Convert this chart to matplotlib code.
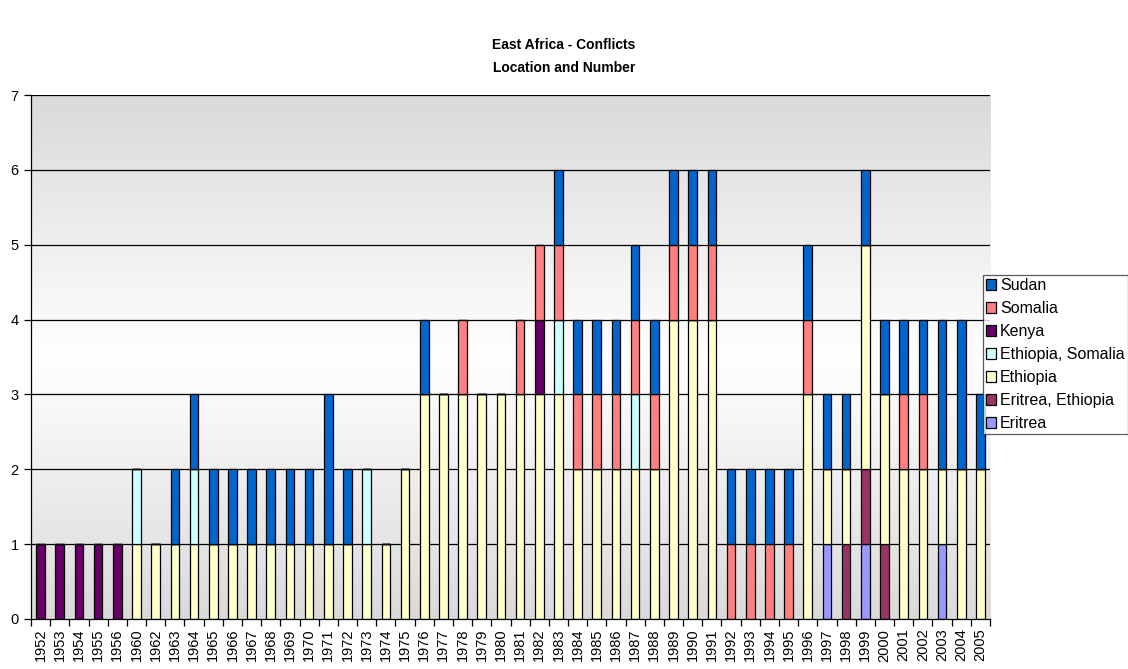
import numpy as np
import matplotlib
matplotlib.use("Agg")
import matplotlib.pyplot as plt
from matplotlib.patches import Patch

plt.rcParams['font.family'] = ['Liberation Sans', 'DejaVu Sans']

years = ["1952", "1953", "1954", "1955", "1956", "1960", "1962", "1963", "1964",
         "1965", "1966", "1967", "1968", "1969", "1970", "1971", "1972", "1973",
         "1974", "1975", "1976", "1977", "1978", "1979", "1980", "1981", "1982",
         "1983", "1984", "1985", "1986", "1987", "1988", "1989", "1990", "1991",
         "1992", "1993", "1994", "1995", "1996", "1997", "1998", "1999", "2000",
         "2001", "2002", "2003", "2004", "2005"]

eritrea = [0, 0, 0, 0, 0, 0, 0, 0, 0,
           0, 0, 0, 0, 0, 0, 0, 0, 0,
           0, 0, 0, 0, 0, 0, 0, 0, 0,
           0, 0, 0, 0, 0, 0, 0, 0, 0,
           0, 0, 0, 0, 0, 1, 0, 1, 0,
           0, 0, 1, 0, 0]
eritrea_ethiopia = [0, 0, 0, 0, 0, 0, 0, 0, 0,
                    0, 0, 0, 0, 0, 0, 0, 0, 0,
                    0, 0, 0, 0, 0, 0, 0, 0, 0,
                    0, 0, 0, 0, 0, 0, 0, 0, 0,
                    0, 0, 0, 0, 0, 0, 1, 1, 1,
                    0, 0, 0, 0, 0]
ethiopia = [0, 0, 0, 0, 0, 1, 1, 1, 1,
            1, 1, 1, 1, 1, 1, 1, 1, 1,
            1, 2, 3, 3, 3, 3, 3, 3, 3,
            3, 2, 2, 2, 2, 2, 4, 4, 4,
            0, 0, 0, 0, 3, 1, 1, 3, 2,
            2, 2, 1, 2, 2]
ethiopia_somalia = [0, 0, 0, 0, 0, 1, 0, 0, 1,
                    0, 0, 0, 0, 0, 0, 0, 0, 1,
                    0, 0, 0, 0, 0, 0, 0, 0, 0,
                    1, 0, 0, 0, 1, 0, 0, 0, 0,
                    0, 0, 0, 0, 0, 0, 0, 0, 0,
                    0, 0, 0, 0, 0]
kenya = [1, 1, 1, 1, 1, 0, 0, 0, 0,
         0, 0, 0, 0, 0, 0, 0, 0, 0,
         0, 0, 0, 0, 0, 0, 0, 0, 1,
         0, 0, 0, 0, 0, 0, 0, 0, 0,
         0, 0, 0, 0, 0, 0, 0, 0, 0,
         0, 0, 0, 0, 0]
somalia = [0, 0, 0, 0, 0, 0, 0, 0, 0,
           0, 0, 0, 0, 0, 0, 0, 0, 0,
           0, 0, 0, 0, 1, 0, 0, 1, 1,
           1, 1, 1, 1, 1, 1, 1, 1, 1,
           1, 1, 1, 1, 1, 0, 0, 0, 0,
           1, 1, 0, 0, 0]
sudan = [0, 0, 0, 0, 0, 0, 0, 1, 1,
         1, 1, 1, 1, 1, 1, 2, 1, 0,
         0, 0, 1, 0, 0, 0, 0, 0, 0,
         1, 1, 1, 1, 1, 1, 1, 1, 1,
         1, 1, 1, 1, 1, 1, 1, 1, 1,
         1, 1, 2, 2, 1]

series = [
    ("Eritrea", eritrea, "#9999FF"),
    ("Eritrea, Ethiopia", eritrea_ethiopia, "#993366"),
    ("Ethiopia", ethiopia, "#FFFFCC"),
    ("Ethiopia, Somalia", ethiopia_somalia, "#CCFFFF"),
    ("Kenya", kenya, "#660066"),
    ("Somalia", somalia, "#FF8080"),
    ("Sudan", sudan, "#0066CC"),
]

fig = plt.figure(figsize=(11.28, 6.69), dpi=100)
ax = fig.add_axes([31 / 1128, 50 / 669, 959 / 1128, 524 / 669])

n = len(years)
x = np.arange(n)
ax.set_xlim(-0.5, n - 0.5)
ax.set_ylim(0, 7)

# vertical gray-white-gray gradient behind the plot
t = np.linspace(0, 1, 256)
shade = 0.855 + (1 - 0.855) * (1 - np.abs(t - 0.5) * 2)
grad = np.repeat(shade[:, None, None], 3, axis=2)
ax.imshow(grad, extent=(-0.5, n - 0.5, 0, 7), aspect='auto', origin='lower',
          zorder=0, interpolation='bilinear')

for yv in range(1, 8):
    ax.axhline(yv, color='black', lw=0.9, zorder=1)

bottom = np.zeros(n)
handles = []
for name, vals, col in series:
    v = np.array(vals, dtype=float)
    ax.bar(x, v, width=0.45, bottom=bottom, color=col, edgecolor='black',
           linewidth=0.9, zorder=2)
    bottom += v
    handles.append(Patch(facecolor=col, edgecolor='black', linewidth=0.9, label=name))

for s in ['top', 'right']:
    ax.spines[s].set_visible(False)
ax.spines['left'].set_linewidth(0.9)
ax.spines['bottom'].set_linewidth(0.9)

ax.set_yticks(range(0, 8))
ax.tick_params(axis='y', length=5, width=0.9, labelsize=10.5, pad=4)
ax.set_xticks(x)
ax.set_xticklabels(years, rotation=90, fontsize=10.5)
ax.tick_params(axis='x', length=0, pad=7)
ax.set_xticks(np.arange(-0.5, n, 1), minor=True)
ax.tick_params(axis='x', which='minor', length=5, width=0.9)

fig.text(0.5, 1 - 45 / 669, "East Africa - Conflicts", ha='center', va='center',
         fontsize=10, fontweight='bold')
fig.text(0.5, 1 - 68 / 669, "Location and Number", ha='center', va='center',
         fontsize=10, fontweight='bold')

leg = fig.legend(handles[::-1], [h.get_label() for h in handles[::-1]],
                 loc='upper left', bbox_to_anchor=(983 / 1128, 1 - 275 / 669),
                 fontsize=11.5, frameon=True, fancybox=False, edgecolor='#333333',
                 handlelength=0.6, handleheight=0.6, handletextpad=0.25,
                 labelspacing=0.5, borderpad=0.2, borderaxespad=0)
leg.get_frame().set_linewidth(0.9)

fig.savefig("out.png", dpi=100)
